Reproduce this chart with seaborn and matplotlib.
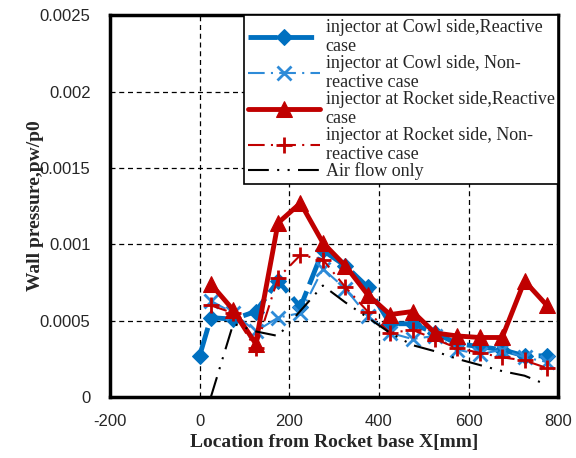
import matplotlib
matplotlib.use("Agg")
import matplotlib.pyplot as plt
import seaborn as sns
import pandas as pd
from matplotlib.ticker import MultipleLocator, AutoMinorLocator

# Datos
x_main = [0, 25, 75, 125, 175, 225, 275, 325, 375, 425, 475, 525, 575, 625, 675, 725, 775]
cowl_reactive = [0.00027, 0.00052, 0.00051, 0.00056, 0.00076, 0.00059, 0.00096, 0.00086, 0.00072,
                 0.00048, 0.00048, 0.00042, 0.00035, 0.00033, 0.00031, 0.00027, 0.00027]

x_rest = [25, 75, 125, 175, 225, 275, 325, 375, 425, 475, 525, 575, 625, 675, 725, 775]
cowl_nonreactive = [0.00063, 0.00055, 0.00043, 0.00052, 0.00055, 0.00084, 0.00071, 0.00053,
                    0.00042, 0.00038, 0.00040, 0.00031, 0.00028, 0.00031, 0.00026, 0.00023]
rocket_reactive = [0.00074, 0.00057, 0.00035, 0.00114, 0.00127, 0.00101, 0.00086, 0.00067,
                   0.00054, 0.00056, 0.00042, 0.00040, 0.00039, 0.00039, 0.00076, 0.00060]
rocket_nonreactive = [0.00060, 0.00055, 0.00032, 0.00078, 0.00093, 0.00090, 0.00072, 0.00056,
                      0.00042, 0.00044, 0.00038, 0.00032, 0.00029, 0.00026, 0.00024, 0.00019]

x_air = [25, 75, 125, 175, 275, 325, 375, 425, 475, 525, 575, 625, 675, 725, 775]
air_only = [0.0, 0.00048, 0.00043, 0.00040, 0.00073, 0.00062, 0.00052, 0.00042, 0.00034,
            0.00030, 0.00025, 0.00021, 0.00017, 0.00014, 0.00008]

labels = ['injector at Cowl side,Reactive\ncase',
          'injector at Cowl side, Non-\nreactive case',
          'injector at Rocket side,Reactive\ncase',
          'injector at Rocket side, Non-\nreactive case',
          'Air flow only']

sns.set_style('white')
plt.rcParams['font.family'] = ['Liberation Serif', 'DejaVu Serif']

fig = plt.figure(figsize=(5.76, 4.58), dpi=100)
ax = fig.add_axes([0.191, 0.133, 0.778, 0.834])

blue = '#0070C0'
blue2 = '#2E8BD8'
red = '#C00000'

sns.lineplot(x=x_main, y=cowl_reactive, ax=ax, color=blue, lw=3.5, sort=False,
             linestyle=(0, (6, 1.5)), marker='D', markersize=8, markeredgecolor=blue,
             label=labels[0])
sns.lineplot(x=x_rest, y=cowl_nonreactive, ax=ax, color=blue2, lw=1.5, sort=False,
             linestyle=(0, (8, 3, 1, 3)), marker='x', markersize=10, markeredgewidth=2,
             markeredgecolor=blue2, label=labels[1])
sns.lineplot(x=x_rest, y=rocket_reactive, ax=ax, color=red, lw=3.5, sort=False,
             linestyle='-', marker='^', markersize=11, markeredgecolor=red,
             label=labels[2])
sns.lineplot(x=x_rest, y=rocket_nonreactive, ax=ax, color=red, lw=1.5, sort=False,
             linestyle=(0, (8, 3, 1, 3)), marker='+', markersize=12, markeredgewidth=2,
             markeredgecolor=red, label=labels[3])
sns.lineplot(x=x_air, y=air_only, ax=ax, color='black', lw=1.5, sort=False,
             linestyle=(0, (10, 4, 1, 4, 1, 4)), label=labels[4])

ax.set_xlim(-200, 800)
ax.set_ylim(0, 0.0025)
ax.xaxis.set_minor_locator(MultipleLocator(50))
ax.yaxis.set_minor_locator(AutoMinorLocator(8))
ax.set_xticks([-200, 0, 200, 400, 600, 800])
ax.set_xticklabels(['-200', '0', '200', '400', '600', '800'])
ax.set_yticks([0, 0.0005, 0.001, 0.0015, 0.002, 0.0025])
ax.set_yticklabels(['0', '0.0005', '0.001', '0.0015', '0.002', '0.0025'])
ax.tick_params(which='both', direction='in', length=3, width=1.5, labelsize=12)
ax.tick_params(axis='x', pad=12)
ax.tick_params(axis='y', pad=14)
for lab in ax.get_xticklabels() + ax.get_yticklabels():
    lab.set_family('Liberation Sans')

for xg in [0, 200, 400, 600]:
    ax.axvline(xg, color='black', lw=0.9, ls=(0, (4, 3)), zorder=0)
for yg in [0.0005, 0.001, 0.0015, 0.002]:
    ax.axhline(yg, color='black', lw=0.9, ls=(0, (4, 3)), zorder=0)

for s in ax.spines.values():
    s.set_linewidth(2.5)
    s.set_color('black')

ax.set_xlabel('Location from Rocket base X[mm]', fontsize=14, fontweight='bold', labelpad=4)
ax.set_ylabel('Wall pressure,pw/p0', fontsize=14, fontweight='bold', labelpad=-3)

leg = ax.legend(loc='upper right', bbox_to_anchor=(1.0, 1.0), borderaxespad=0.0,
                fontsize=13, handlelength=4.0, handletextpad=0.3, labelspacing=0.0,
                fancybox=False, framealpha=1, edgecolor='black', borderpad=0.2)
leg.get_frame().set_linewidth(1.2)
for t in leg.get_texts():
    t.set_linespacing(1.15)

plt.savefig('out.png', dpi=100)
